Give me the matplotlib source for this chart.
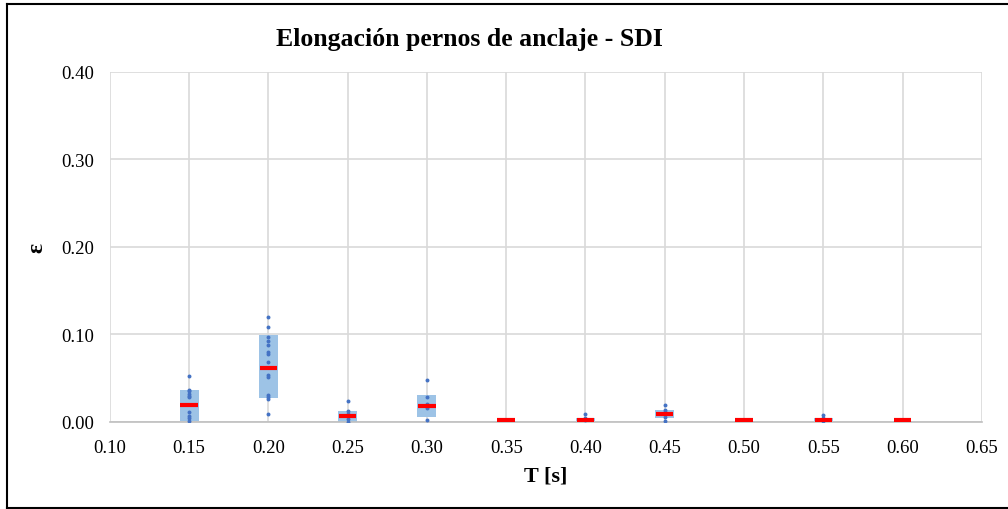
import matplotlib.pyplot as plt
from matplotlib.lines import Line2D

periods = [0.15, 0.20, 0.25, 0.30, 0.35, 0.40, 0.45, 0.50, 0.55, 0.60]
q1 = [0.0015, 0.027, 0.0005, 0.0057, 0.0, 0.001, 0.004, 0.0, 0.001, 0.0]
q3 = [0.037, 0.0994, 0.0126, 0.031, 0.0015, 0.005, 0.014, 0.0015, 0.005, 0.0015]
medians = [0.019, 0.062, 0.007, 0.018, 0.0018, 0.0027, 0.009, 0.0018, 0.0027, 0.0018]
points = [
    [0.053, 0.037, 0.035, 0.032, 0.030, 0.028, 0.011, 0.0065, 0.004, 0.0015],
    [0.120, 0.109, 0.097, 0.093, 0.088, 0.080, 0.078, 0.069, 0.054, 0.051,
     0.031, 0.029, 0.026, 0.009],
    [0.024, 0.012, 0.009, 0.0065, 0.0034, 0.0005],
    [0.048, 0.028, 0.021, 0.016, 0.0023],
    [],
    [0.009, 0.005, 0.002],
    [0.019, 0.014, 0.011, 0.006, 0.0015],
    [],
    [0.008, 0.005, 0.0015],
    [],
]

x_ticks = [0.10, 0.15, 0.20, 0.25, 0.30, 0.35, 0.40, 0.45, 0.50, 0.55, 0.60, 0.65]
y_ticks = [0.0, 0.1, 0.2, 0.3, 0.4]

plt.rcParams['font.family'] = ['Liberation Serif', 'DejaVu Serif']

fig = plt.figure(figsize=(10.08, 5.1), dpi=100)
ax = fig.add_axes([0.109, 0.1706, 0.865, 0.6863])

# boxes (q1 -> q3)
heights = [b - a for a, b in zip(q1, q3)]
ax.bar(periods, heights, bottom=q1, width=0.012, color='#9DC3E6', zorder=2)

# individual results
for t, vals in zip(periods, points):
    ax.scatter([t] * len(vals), vals, s=8, color='#4472C4', zorder=3, linewidths=0)

# medians
for t, m in zip(periods, medians):
    ax.hlines(m, t - 0.0055, t + 0.0055, color='#FF0000', lw=3, zorder=4)

ax.set_xlim(0.10, 0.65)
ax.set_ylim(0.0, 0.40)
ax.set_xticks(x_ticks)
ax.set_xticklabels(['%.2f' % v for v in x_ticks])
ax.set_yticks(y_ticks)
ax.set_yticklabels(['%.2f' % v for v in y_ticks])
ax.tick_params(axis='x', length=0, labelsize=13.5, pad=12)
ax.tick_params(axis='y', length=0, labelsize=13.5, pad=11)
ax.grid(True, color='#D9D9D9', lw=1.2, zorder=0)
ax.set_axisbelow(True)
for s in ['top', 'right', 'left']:
    ax.spines[s].set_visible(False)
ax.spines['bottom'].set_color('#BFBFBF')
ax.spines['bottom'].set_linewidth(1.2)

ax.set_xlabel('T [s]', fontsize=16, fontweight='bold', labelpad=7)
ax.set_ylabel('ε', fontsize=17, fontweight='bold', labelpad=10)
fig.text(0.466, 0.922, 'Elongación pernos de anclaje - SDI', ha='center', va='center',
         fontsize=18.5, fontweight='bold')

# chart border
W, H = 1008, 510
for xs, ys in [([7, 7], [5, 509]), ([7, 1010], [5, 5]), ([7, 1010], [509, 509])]:
    fig.add_artist(Line2D([x / W for x in xs], [1 - y / H for y in ys],
                          color='black', lw=1.5, transform=fig.transFigure))

fig.savefig('out.png', dpi=100)
